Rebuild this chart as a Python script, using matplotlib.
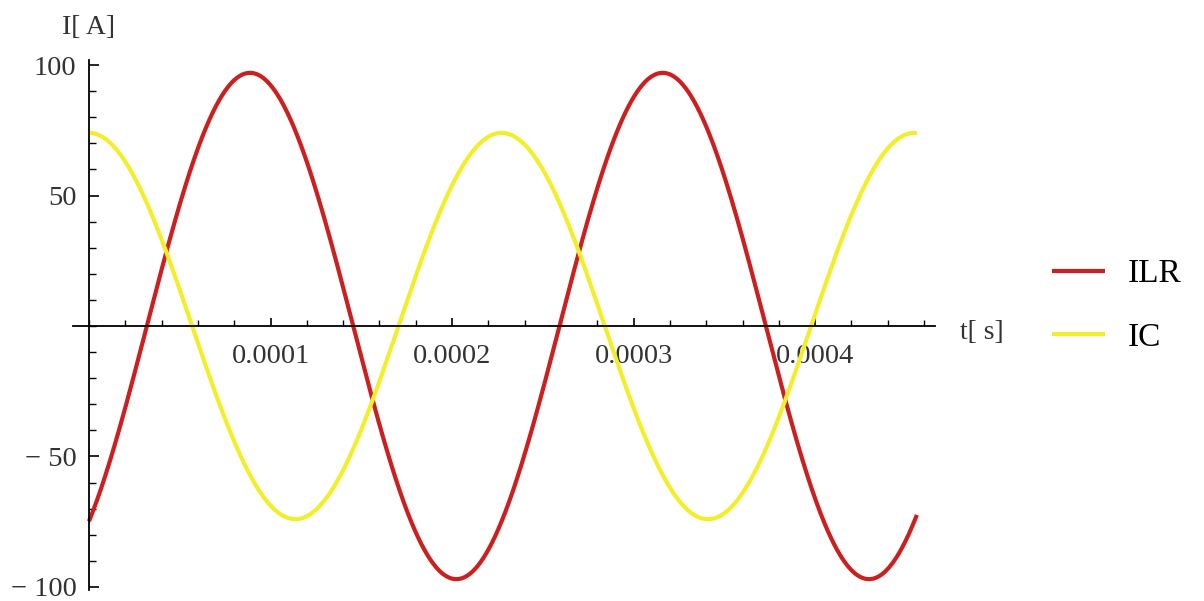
import numpy as np
import matplotlib
matplotlib.use('Agg')
import matplotlib.pyplot as plt
from matplotlib.ticker import FixedLocator, MultipleLocator

## values ##
series_names = ['ILR', 'IC']
amplitudes = [97.0, 74.0]          # A
peak_times = [8.87e-5, 0.0]        # s, time of a positive peak
period = 2.273e-4                  # s, same for both curves
t_end = 4.56e-4                    # s, where the curves stop
colors = ['#cc1f1f', '#f2ef2a']

x_ticks = [0.0001, 0.0002, 0.0003, 0.0004]
x_labels = ['0.0001', '0.0002', '0.0003', '0.0004']
y_ticks = [-100, -50, 50, 100]
y_labels = ['\u2212 100', '\u2212 50', '50', '100']

plt.rcParams['font.family'] = ['Liberation Serif', 'DejaVu Serif']

fig = plt.figure(figsize=(12.04, 6.01), dpi=100)
ax = fig.add_axes([73/1204, 11.4/601, (935-73)/1204, 529.8/601])

t = np.linspace(0, t_end, 1500)
w = 2*np.pi/period
for name, amp, tp, col in zip(series_names, amplitudes, peak_times, colors):
    ax.plot(t, amp*np.cos(w*(t - tp)), color=col, lw=3.0, label=name,
            solid_capstyle='butt')

ax.set_xlim(-8.8e-6, 0.000466)
ax.set_ylim(-101, 102)

for s in ['top', 'right']:
    ax.spines[s].set_visible(False)
ax.spines['left'].set_position(('data', 0))
ax.spines['bottom'].set_position(('data', 0))
ax.spines['left'].set_linewidth(1.3)
ax.spines['bottom'].set_linewidth(1.3)

ax.xaxis.set_major_locator(FixedLocator(x_ticks))
ax.set_xticklabels(x_labels)
ax.xaxis.set_minor_locator(MultipleLocator(0.00002))
ax.yaxis.set_major_locator(FixedLocator(y_ticks))
ax.set_yticklabels(y_labels)
ax.yaxis.set_minor_locator(MultipleLocator(10))

ax.tick_params(axis='x', which='major', direction='in', length=6, width=1.2,
               pad=13, labelsize=20.5, colors='black', labelcolor='#333333')
ax.tick_params(axis='x', which='minor', direction='in', length=4, width=1.0)
ax.tick_params(axis='y', which='major', direction='in', length=7, width=1.2,
               pad=9, labelsize=20.5, labelcolor='#333333')
ax.tick_params(axis='y', which='minor', direction='in', length=5, width=1.0)

fig.text(89/1204, 1 - 28/601, 'I[ A]', fontsize=20, ha='center', va='center',
         color='#333333')
fig.text(960/1204, 1 - 333/601, 't[ s]', fontsize=20, ha='left', va='center',
         color='#333333')

ax.legend(loc='center left', bbox_to_anchor=(1052/1204, 0.491),
          bbox_transform=fig.transFigure, frameon=False, fontsize=24,
          handlelength=1.6, handletextpad=0.67, labelspacing=1.0,
          borderpad=0, borderaxespad=0)

fig.savefig('out.png', dpi=100)
